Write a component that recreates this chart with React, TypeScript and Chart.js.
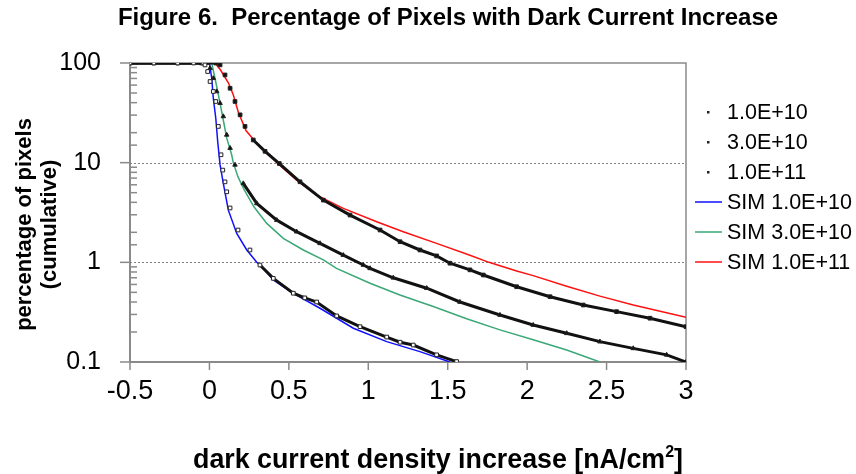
import { useEffect, useRef } from 'react';
import { Chart, registerables } from 'chart.js';

Chart.register(...registerables);

const chartTitle = 'Figure 6.  Percentage of Pixels with Dark Current Increase';
const xAxisTitleMain = 'dark current density increase [nA/cm';
const xAxisTitleSup = '2';
const xAxisTitleEnd = ']';
const yAxisTitleLines = ['percentage of pixels', '(cumulative)'];

const seriesLabels = ['1.0E+10', '3.0E+10', '1.0E+11', 'SIM 1.0E+10', 'SIM 3.0E+10', 'SIM 1.0E+11'];

const xMin = -0.5;
const xMax = 3;
const xStep = 0.5;
const xTickValues = [-0.5, 0, 0.5, 1, 1.5, 2, 2.5, 3];
const xTickLabels = ['-0.5', '0', '0.5', '1', '1.5', '2', '2.5', '3'];
const yTickValues = [0.1, 1, 10, 100];
const yTickLabels = ['0.1', '1', '10', '100'];
const yGridValues = [1, 10];

// measured 1.0E+10
const data1X = [-0.5, -0.35, -0.2, -0.1, -0.04, -0.028, -0.011, 0.004, 0.0245, 0.04, 0.056, 0.073, 0.084, 0.098, 0.109, 0.13, 0.18, 0.255, 0.318, 0.402, 0.528, 0.6, 0.675, 0.801, 0.948, 1.116, 1.2, 1.283, 1.43, 1.556];
const data1Y = [100, 100, 100, 100, 100, 95.6, 82.1, 65.2, 51.8, 41.1, 23.1, 12.0, 8.42, 6.42, 5.1, 3.51, 2.11, 1.33, 0.94, 0.69, 0.49, 0.44, 0.4, 0.29, 0.226, 0.178, 0.158, 0.148, 0.118, 0.101];

// measured 3.0E+10
const data2X = [-0.5, -0.35, -0.2, -0.1, -0.015, 0.004, 0.0245, 0.046, 0.067, 0.0875, 0.109, 0.13, 0.161, 0.213, 0.298, 0.424, 0.549, 0.696, 0.843, 0.969, 1.011, 1.157, 1.368, 1.577, 1.829, 2.038, 2.249, 2.458, 2.668, 2.878, 3.0];
const data2Y = [100, 100, 100, 100, 100, 88.6, 70.3, 51.8, 39.5, 29.1, 19.0, 14.0, 9.51, 6.19, 3.9, 2.65, 2.03, 1.55, 1.18, 0.94, 0.87, 0.7, 0.55, 0.4, 0.296, 0.235, 0.194, 0.16, 0.137, 0.118, 0.1];

// measured 1.0E+11
const data3X = [-0.5, -0.35, -0.2, -0.05, 0.04, 0.067, 0.098, 0.13, 0.161, 0.193, 0.224, 0.276, 0.35, 0.44, 0.57, 0.717, 0.885, 1.074, 1.2, 1.325, 1.43, 1.514, 1.64, 1.724, 1.934, 2.144, 2.353, 2.563, 2.773, 3.0];
const data3Y = [100, 100, 100, 100, 100, 95.6, 75.9, 55.8, 41.1, 30.2, 23.1, 16.9, 13.0, 9.8, 6.43, 4.21, 2.98, 2.11, 1.61, 1.33, 1.16, 0.98, 0.84, 0.746, 0.569, 0.452, 0.373, 0.32, 0.275, 0.226];

// simulation 1.0E+10
const sim1X = [-0.5, 0.0, 0.0145, 0.0245, 0.04, 0.052, 0.067, 0.0875, 0.119, 0.172, 0.235, 0.298, 0.35, 0.402, 0.528, 0.696, 0.906, 1.116, 1.325, 1.514];
const sim1Y = [100, 100, 70.3, 44.3, 27.9, 16.3, 9.5, 6.19, 3.34, 1.95, 1.33, 1.0, 0.837, 0.665, 0.489, 0.346, 0.218, 0.16, 0.127, 0.1];

// simulation 3.0E+10
const sim2X = [-0.5, 0.0145, 0.035, 0.052, 0.077, 0.109, 0.14, 0.15, 0.18, 0.22, 0.28, 0.361, 0.465, 0.591, 0.717, 0.8, 1.011, 1.199, 1.409, 1.619, 1.829, 2.038, 2.249, 2.458];
const sim2Y = [100, 100, 70.3, 51.8, 32.6, 17.6, 12.0, 10.0, 7.2, 5.3, 3.61, 2.46, 1.74, 1.33, 1.06, 0.87, 0.616, 0.47, 0.36, 0.272, 0.21, 0.167, 0.132, 0.1];

// simulation 1.0E+11
const sim3X = [-0.5, 0.035, 0.07, 0.12, 0.15, 0.182, 0.23, 0.298, 0.381, 0.424, 0.549, 0.675, 0.843, 1.053, 1.22, 1.43, 1.64, 1.76, 1.934, 2.038, 2.249, 2.458, 2.668, 3.0];
const sim3Y = [100, 100, 85, 63, 48, 32, 21, 15.6, 11.9, 10, 6.68, 4.73, 3.48, 2.55, 2.03, 1.55, 1.18, 1.0, 0.82, 0.736, 0.575, 0.458, 0.373, 0.281];

const zip = (xs: number[], ys: number[]) => xs.map((x, i) => ({ x, y: ys[i] }));

const FONT = "'Liberation Sans', Arial, Helvetica, sans-serif";
const AXIS_GRAY = '#8a8a8a';

const hideSteep = (c: any) => {
  const dx = Math.abs(c.p1.x - c.p0.x);
  const dy = Math.abs(c.p1.y - c.p0.y);
  return dy > 1.5 * dx ? 'rgba(0,0,0,0)' : undefined;
};

const framePlugin = {
  id: 'frame',
  beforeDatasetsDraw(chart: any) {
    const { ctx, chartArea } = chart;
    const y = chart.scales.y;
    ctx.save();
    ctx.strokeStyle = '#808080';
    ctx.lineWidth = 1;
    ctx.setLineDash([2, 2]);
    for (const v of yGridValues) {
      const py = Math.round(y.getPixelForValue(v)) + 0.5;
      ctx.beginPath();
      ctx.moveTo(chartArea.left, py);
      ctx.lineTo(chartArea.right, py);
      ctx.stroke();
    }
    ctx.setLineDash([]);
    ctx.strokeStyle = AXIS_GRAY;
    ctx.lineWidth = 1.5;
    ctx.beginPath();
    ctx.moveTo(chartArea.left, chartArea.top);
    ctx.lineTo(chartArea.right, chartArea.top);
    ctx.lineTo(chartArea.right, chartArea.bottom);
    ctx.stroke();
    ctx.restore();
  },
  afterDraw(chart: any) {
    const { ctx, chartArea } = chart;
    const x = chart.scales.x;
    const y = chart.scales.y;
    ctx.save();
    ctx.strokeStyle = AXIS_GRAY;
    ctx.lineWidth = 1.5;
    for (const t of y.ticks) {
      const v = t.value;
      const py = y.getPixelForValue(v);
      const major = yTickValues.some((m) => Math.abs(m - v) < 1e-9);
      ctx.beginPath();
      if (major) {
        ctx.moveTo(chartArea.left - 10, py);
        ctx.lineTo(chartArea.left, py);
      } else {
        ctx.moveTo(chartArea.left, py);
        ctx.lineTo(chartArea.left + 7, py);
      }
      ctx.stroke();
    }
    for (const t of x.ticks) {
      const px = x.getPixelForValue(t.value);
      ctx.beginPath();
      ctx.moveTo(px, chartArea.bottom);
      ctx.lineTo(px, chartArea.bottom + 8);
      ctx.stroke();
    }

    // chart title
    ctx.fillStyle = '#000';
    ctx.textBaseline = 'middle';
    ctx.textAlign = 'center';
    ctx.font = `bold 24px ${FONT}`;
    ctx.fillText(chartTitle, 448, 18);

    // x axis title with superscript
    const mainFont = `bold 26.8px ${FONT}`;
    const supFont = `bold 16px ${FONT}`;
    ctx.font = mainFont;
    const wMain = ctx.measureText(xAxisTitleMain).width;
    const wEnd = ctx.measureText(xAxisTitleEnd).width;
    ctx.font = supFont;
    const wSup = ctx.measureText(xAxisTitleSup).width;
    const total = wMain + wSup + wEnd;
    let cx = 438 - total / 2;
    const ty = 459;
    ctx.textAlign = 'left';
    ctx.textBaseline = 'alphabetic';
    ctx.font = mainFont;
    ctx.fillText(xAxisTitleMain, cx, ty + 9);
    cx += wMain;
    ctx.font = supFont;
    ctx.fillText(xAxisTitleSup, cx, ty - 2);
    cx += wSup;
    ctx.font = mainFont;
    ctx.fillText(xAxisTitleEnd, cx, ty + 9);

    // y axis title (two lines, rotated)
    ctx.font = `bold 22px ${FONT}`;
    ctx.textAlign = 'center';
    ctx.textBaseline = 'middle';
    ctx.translate(25, (chartArea.top + chartArea.bottom) / 2 + 12);
    ctx.rotate(-Math.PI / 2);
    yAxisTitleLines.forEach((line, i) => ctx.fillText(line, 0, i * 25));
    ctx.restore();

    // legend
    ctx.save();
    ctx.font = `21.5px ${FONT}`;
    ctx.textAlign = 'left';
    ctx.textBaseline = 'middle';
    chart.data.datasets.forEach((ds: any, i: number) => {
      const ry = chartArea.top + 49 + i * 30;
      const sx = chartArea.right + 9;
      if (ds.showMarkers) {
        ctx.fillStyle = '#222';
        ctx.fillRect(sx + 12, ry - 1, 2.5, 2.5);
      } else {
        ctx.strokeStyle = ds.borderColor;
        ctx.lineWidth = 1.5;
        ctx.beginPath();
        ctx.moveTo(sx, ry);
        ctx.lineTo(sx + 27, ry);
        ctx.stroke();
      }
      ctx.fillStyle = '#000';
      ctx.fillText(ds.label, sx + 32, ry + 1);
    });
    ctx.restore();
  },
};

export default function App() {
  const canvasRef = useRef<HTMLCanvasElement | null>(null);

  useEffect(() => {
    document.body.style.margin = '0';
    const canvas = canvasRef.current;
    if (!canvas) return;

    const dataStyle = (label: string, xs: number[], ys: number[], pointStyle: string, fill: string) => ({
      label,
      data: zip(xs, ys),
      showLine: true,
      showMarkers: true,
      borderColor: '#111',
      borderWidth: 3,
      pointStyle,
      pointRadius: 2.6,
      pointBackgroundColor: fill,
      pointBorderColor: '#222',
      pointBorderWidth: 1,
      segment: { borderColor: hideSteep },
    });
    const simStyle = (label: string, xs: number[], ys: number[], color: string) => ({
      label,
      data: zip(xs, ys),
      showLine: true,
      showMarkers: false,
      borderColor: color,
      borderWidth: 1.5,
      pointRadius: 0,
    });

    const chart = new Chart(canvas, {
      type: 'scatter',
      data: {
        datasets: [
          dataStyle(seriesLabels[0], data1X, data1Y, 'rect', '#fff'),
          dataStyle(seriesLabels[1], data2X, data2Y, 'triangle', '#111'),
          dataStyle(seriesLabels[2], data3X, data3Y, 'rect', '#111'),
          simStyle(seriesLabels[3], sim1X, sim1Y, '#1010ff'),
          simStyle(seriesLabels[4], sim2X, sim2Y, '#3aa876'),
          simStyle(seriesLabels[5], sim3X, sim3Y, '#ff1010'),
        ] as any,
      },
      options: {
        animation: false,
        responsive: true,
        maintainAspectRatio: false,
        events: [],
        layout: { padding: { left: 0, right: 170, top: 63, bottom: 0 } },
        plugins: {
          legend: { display: false },
          tooltip: { enabled: false },
          title: { display: false },
        },
        scales: {
          x: {
            type: 'linear',
            min: xMin,
            max: xMax,
            ticks: {
              stepSize: xStep,
              color: '#000',
              font: { family: FONT, size: 27 },
              padding: 13,
              maxRotation: 0,
              callback: (v: any) => {
                const idx = xTickValues.findIndex((m) => Math.abs(m - Number(v)) < 1e-9);
                return idx >= 0 ? xTickLabels[idx] : '';
              },
            },
            grid: { display: false, drawTicks: false },
            border: { display: true, color: AXIS_GRAY, width: 2 },
            title: { display: false },
            afterFit: (s: any) => {
              s.height = 112;
            },
          },
          y: {
            type: 'logarithmic',
            min: 0.1,
            max: 100,
            ticks: {
              autoSkip: false,
              color: '#000',
              font: { family: FONT, size: 25 },
              padding: 29,
              callback: (v: any) => {
                const idx = yTickValues.findIndex((m) => Math.abs(m - Number(v)) < 1e-9);
                return idx >= 0 ? yTickLabels[idx] : '';
              },
            },
            grid: { display: false, drawTicks: false },
            border: { display: true, color: AXIS_GRAY, width: 2 },
            afterFit: (s: any) => {
              s.width = 130;
            },
          },
        },
      },
      plugins: [framePlugin],
    });

    return () => chart.destroy();
  }, []);

  return (
    <div style={{ width: 856, height: 474, position: 'relative' }}>
      <canvas ref={canvasRef} />
    </div>
  );
}
